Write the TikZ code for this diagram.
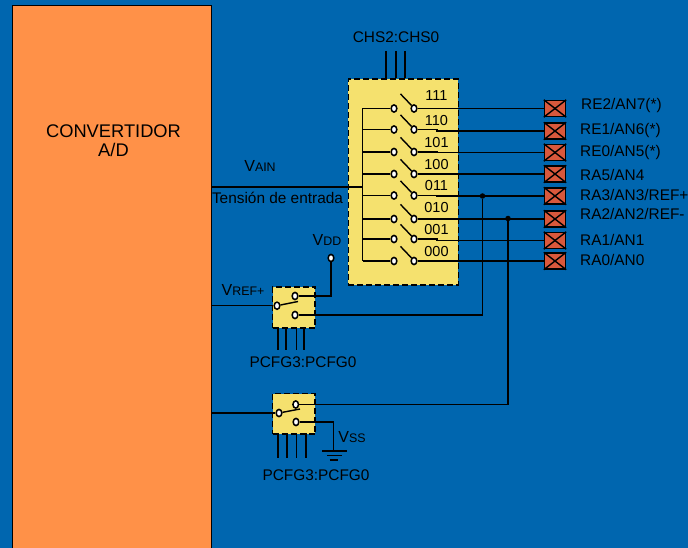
\documentclass[tikz,border=0pt]{standalone}
\usepackage{fontspec}
\setmainfont{Liberation Sans}
\usepackage{xcolor}
\usepackage{tikz}
\usetikzlibrary{calc, shapes.geometric, positioning}

\definecolor{fondo}{RGB}{0,102,175}
\definecolor{naranja}{RGB}{255,145,72}
\definecolor{amarillo}{RGB}{245,225,110}
\definecolor{rojo}{RGB}{217,88,60}

\newcommand{\fsize}[1]{\fontsize{#1}{#1}\selectfont}
\newcommand{\vlab}[2]{{\fsize{16}#1}{\fsize{12.4}#2}}

\tikzset{
    hilo/.style={line width=1.4pt},
    caja/.style={draw, line width=1.6pt, dash pattern=on 6pt off 3pt, fill=amarillo, anchor=north west, inner sep=0pt},
    term/.style={ellipse, draw, fill=white, line width=1.5pt, minimum width=5.6pt, minimum height=7.2pt, inner sep=0pt},
    pin/.style={draw, fill=rojo, line width=1.4pt, minimum width=21pt, minimum height=16pt, inner sep=0pt},
    punto/.style={circle, fill=black, minimum size=5.5pt, inner sep=0pt},
    txt/.style={inner sep=0pt, font=\fsize{15.4}},
    cod/.style={inner sep=0pt, font=\fsize{14.5}, anchor=base}
}

\begin{document}
\begin{tikzpicture}[x=1pt, y=-1pt]
    \useasboundingbox (0,0) rectangle (688,548);
    \fill[fondo] (0,0) rectangle (688,548);

    % Convertidor
    \node[draw, fill=naranja, line width=1.4pt, anchor=north west, minimum width=199pt, minimum height=570pt] (adc) at (12,5) {};
    \node[inner sep=0pt, font=\fsize{18.3}, align=center] (adctxt) at (113.5,141) {CONVERTIDOR\\[1pt]A/D};

    % Cajas de conmutadores
    \node[caja, minimum width=110pt, minimum height=206pt] (mux) at (347.5,78) {};
    \node[caja, minimum width=42.5pt, minimum height=41pt] (swa) at (271.7,286) {};
    \node[caja, minimum width=42.5pt, minimum height=40.5pt] (swb) at (271.7,392.7) {};

    % Entradas del multiplexor
    \coordinate (bustop) at (362.7,108.5);
    \foreach \i/\y/\yp/\ycod/\code/\ypin/\xpin/\name in {
        7/108.5/108.5/101/111/110/581/{RE2/AN7(*)},
        6/129.5/131/126/110/135/580/{RE1/AN6(*)},
        5/152/152.5/147.7/101/157/580/{RE0/AN5(*)},
        4/174/174/169.3/100/180.5/580/{RA5/AN4},
        3/195.5/196/190.7/011/200.5/580/{RA3/AN3/REF+},
        2/219/219/212.3/010/219.5/580/{RA2/AN2/REF-},
        1/239/240.5/235/001/245/580/{RA1/AN1},
        0/261/261/256.7/000/265.5/580/{RA0/AN0}} {
        \node[term] (l\i) at (394,\y) {};
        \node[term] (r\i) at (414,\y) {};
        \coordinate (b\i) at (362.7,\y);
        \draw[hilo] (b\i) -- (l\i);
        \draw[hilo] (r\i.north west) -- ++(-11,-11.5);
        \node[pin] (p\i) at (555,\yp) {};
        \draw[hilo] (p\i.north west) -- (p\i.south east);
        \draw[hilo] (p\i.south west) -- (p\i.north east);
        \draw[hilo] (r\i) -- ++(23,0) |- (p\i);
        \node[cod] (c\i) at (436.5,\ycod) {\code};
        \node[txt, anchor=base west] (n\i) at (\xpin,\ypin) {\name};
    }
    \draw[hilo] (bustop) -- (b0);

    % Control del multiplexor
    \node[txt] (chs) at (396,37) {CHS2:CHS0};
    \foreach \x in {386,396,405} {
        \coordinate (u\x) at (\x,51);
        \draw[hilo] (u\x) -- (\x,78);
    }

    % Entrada analogica
    \node[txt] (vain) at (260,166) {\vlab{V}{AIN}};
    \node[txt] (tension) at (277.5,198) {Tensión de entrada};
    \coordinate (ain) at (362.7,187);
    \draw[hilo] (adc.east |- ain) -- (ain);

    % Conmutador VREF+
    \node[term] (ac) at (277,305.7) {};
    \node[term] (au) at (295,296) {};
    \node[term] (ad) at (295,315) {};
    \node[term] (vdd) at (331,258) {};
    \node[txt] (vddtxt) at (327,240) {\vlab{V}{DD}};
    \node[txt] (vref) at (243,290) {\vlab{V}{REF+}};
    \draw[hilo] (adc.east |- ac) -- (ac);
    \draw[hilo] (ac) -- (298,301.5);
    \draw[hilo] (au) -| (vdd);
    \node[punto] (ja) at (482.5,196) {};
    \draw[hilo] (ad) -| (ja);
    \foreach \x in {278,286,296.5,304} \draw[hilo] (\x,327) -- (\x,350);
    \node[txt] (pcfga) at (303,362) {PCFG3:PCFG0};

    % Conmutador VREF-
    \node[term] (bc) at (279,413) {};
    \node[term] (bu) at (295.7,404.5) {};
    \node[term] (bd) at (296,422) {};
    \draw[hilo] (adc.east |- bc) -- (bc);
    \draw[hilo] (bc) -- (300,409);
    \node[punto] (jb) at (508,218.5) {};
    \draw[hilo] (bu) -| (jb);
    \coordinate (tierra) at (333.7,451);
    \draw[hilo] (bd) -| (tierra);
    \draw[hilo] (322,451) -- (347,451);
    \draw[hilo] (327,455.5) -- (342,455.5);
    \draw[hilo] (329.5,460) -- (338,460);
    \node[txt] (vss) at (352,437) {\vlab{V}{SS}};
    \foreach \x in {278,287,296.5,306} \draw[hilo] (\x,433) -- (\x,458);
    \node[txt] (pcfgb) at (316,475) {PCFG3:PCFG0};
\end{tikzpicture}
\end{document}
